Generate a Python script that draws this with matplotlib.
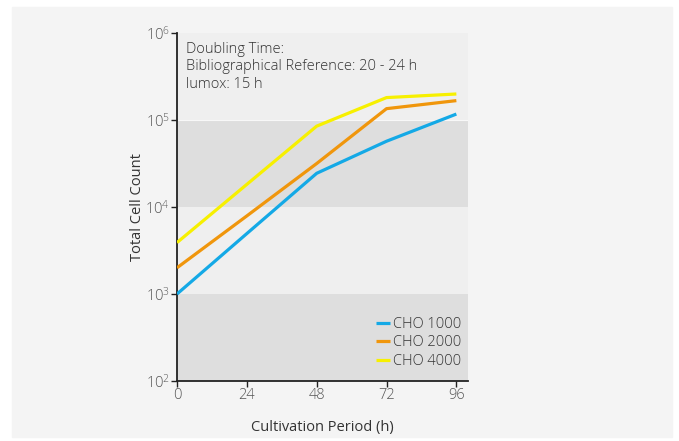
import matplotlib
matplotlib.use("Agg")
import matplotlib.pyplot as plt
from matplotlib.patches import Rectangle
from matplotlib.ticker import LogLocator, LogFormatterMathtext, NullLocator

plt.rcParams['font.family'] = ['Open Sans', 'DejaVu Sans']
plt.rcParams['font.weight'] = 'light'
plt.rcParams['mathtext.fontset'] = 'custom'
plt.rcParams['mathtext.rm'] = 'Open Sans:light'

hours = [0, 24, 48, 72, 96]
cho_1000 = [1000, 4950, 24400, 57000, 117000]
cho_2000 = [2000, 7900, 31600, 135000, 167000]
cho_4000 = [3900, 18200, 85000, 181000, 199000]
series_names = ["CHO 1000", "CHO 2000", "CHO 4000"]
x_ticks = [0, 24, 48, 72, 96]
annotation = "Doubling Time:\nBibliographical Reference: 20 - 24 h\nlumox: 15 h"

W, H = 679, 441
fig = plt.figure(figsize=(W / 100, H / 100), dpi=100, facecolor='white')
fig.patches.append(Rectangle((12 / W, 4 / H), 660 / W, 430 / H,
                             transform=fig.transFigure, color='#f4f4f4', zorder=-10))

ax = fig.add_axes([177 / W, (H - 381) / H, (468 - 177) / W, (381 - 33) / H])
ax.set_yscale('log')
ax.set_ylim(1e2, 1e6)
ax.set_xlim(0, 100)
ax.set_facecolor('#efefef')

band_colors = ['#dedede', '#efefef', '#dedede', '#efefef']
for i, c in enumerate(band_colors):
    ax.axhspan(10 ** (2 + i), 10 ** (3 + i), color=c, zorder=0, lw=0)
ax.axhline(1e5, color='#f8f8f8', lw=0.8, zorder=0.5)

colors = ['#14a9e6', '#f0960c', '#f7f000']
for vals, name, c in zip([cho_1000, cho_2000, cho_4000], series_names, colors):
    ax.plot(hours, vals, color=c, lw=2.3, label=name, zorder=3, solid_capstyle='butt')

for s in ['top', 'right']:
    ax.spines[s].set_visible(False)
for s in ['left', 'bottom']:
    ax.spines[s].set_linewidth(1.3)
    ax.spines[s].set_color('#222222')

ax.set_xticks(x_ticks)
ax.yaxis.set_major_locator(LogLocator(base=10, numticks=10))
ax.yaxis.set_major_formatter(LogFormatterMathtext())
ax.yaxis.set_minor_locator(NullLocator())
ax.tick_params(axis='both', length=4, width=1, color='#222222', labelcolor='#555555',
               labelsize=10.5, pad=1)

ax.set_xlabel("Cultivation Period (h)", fontsize=10.5, color='#333333', labelpad=12.5)
ax.set_ylabel("Total Cell Count", fontsize=10.5, color='#333333', labelpad=0.5)

ax.text(0.03, 0.975, annotation, transform=ax.transAxes, ha='left', va='top',
        fontsize=10.5, color='#333333', linespacing=1.25)

leg = ax.legend(loc='lower right', bbox_to_anchor=(1.012, 0.005), frameon=False,
                fontsize=10.5, handlelength=1.0, handletextpad=0.2, labelspacing=0.25,
                borderaxespad=0.3)
for t in leg.get_texts():
    t.set_color('#333333')

fig.savefig('out.png', dpi=100, facecolor='white')
